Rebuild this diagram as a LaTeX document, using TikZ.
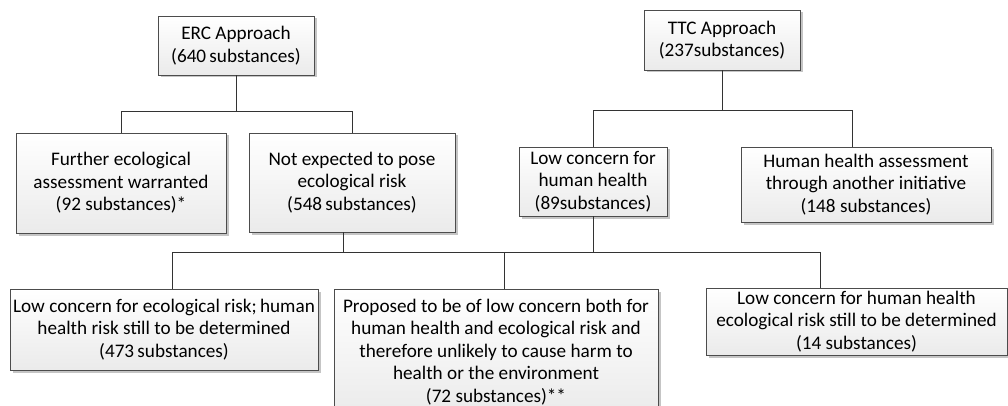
\documentclass[tikz,border=0pt]{standalone}
\usepackage{fontspec}
\setmainfont{Carlito}
\usepackage{tikz}
\usetikzlibrary{shadows,calc}

\begin{document}
\begin{tikzpicture}[x=1pt, y=-1pt,
    every node/.style={font=\fontsize{19.2}{22.6}\selectfont, align=center},
    box/.style={draw=black!70, line width=0.8pt, top color=white, bottom color=black!8,
      drop shadow={shadow xshift=2.5pt, shadow yshift=-2.5pt, fill=black!45},
      inner sep=0pt},
    link/.style={draw=black!80, line width=0.8pt}]
  \useasboundingbox (0,0) rectangle (1008,406);
  % top level
  \node[box, minimum width=156pt, minimum height=59pt] (erc) at (236,45.5)
    {ERC Approach\\(640\,substances)};
  \node[box, minimum width=156pt, minimum height=60pt] (ttc) at (722,40)
    {TTC Approach\\(237substances)};
  % second level
  \node[box, minimum width=210pt, minimum height=100pt] (further) at (121,183)
    {Further ecological\\assessment warranted\\(92 substances)*};
  \node[box, minimum width=206pt, minimum height=99pt] (notexp) at (352,182.5)
    {Not expected to pose\\ecological risk\\(548\,substances)};
  \node[box, minimum width=148pt, minimum height=69pt] (lowhh) at (593,181.5)
    {Low concern for\\human health\\(89substances)};
  \node[box, minimum width=250pt, minimum height=75pt] (hha) at (866,184.5)
    {Human health assessment\\through another initiative\\(148 substances)};
  % third level
  \node[box, minimum width=308pt, minimum height=81pt] (loweco) at (164,329.5)
    {Low concern for ecological risk;\,human\\health risk still to be determined\\(473\,substances)};
  \node[box, minimum width=324pt, minimum height=126pt] (proposed) at (496,352)
    {Proposed to be of low concern both for\\human health and ecological risk and\\therefore unlikely to cause harm to\\health or the environment\\(72 substances)**};
  \node[box, minimum width=301pt, minimum height=67pt] (lowhheco) at (856.5,321.5)
    {Low concern for human health\\ecological risk still to be determined\\(14 substances)};
  % junctions
  \coordinate (ercj) at (236,111);
  \coordinate (ttcj) at (722,110);
  \coordinate (busj) at (343,252);
  % connectors
  \draw[link] (erc.south) -- (ercj) -| (further.north);
  \draw[link] (ercj) -| (notexp.north);
  \draw[link] (ttc.south) -- (ttcj) -| (lowhh.north);
  \draw[link] (ttcj) -| ($(hha.north)+(-14,0)$);
  \draw[link] ([xshift=-9pt]notexp.south) -- (busj);
  \draw[link] (lowhh.south) -- (lowhh.south |- busj);
  \draw[link] (busj) -| ($(loweco.north)+(8,0)$);
  \draw[link] (busj) -| ($(proposed.north)+(8,0)$);
  \draw[link] (busj) -| ($(lowhheco.north)+(-36,0)$);
\end{tikzpicture}
\end{document}
